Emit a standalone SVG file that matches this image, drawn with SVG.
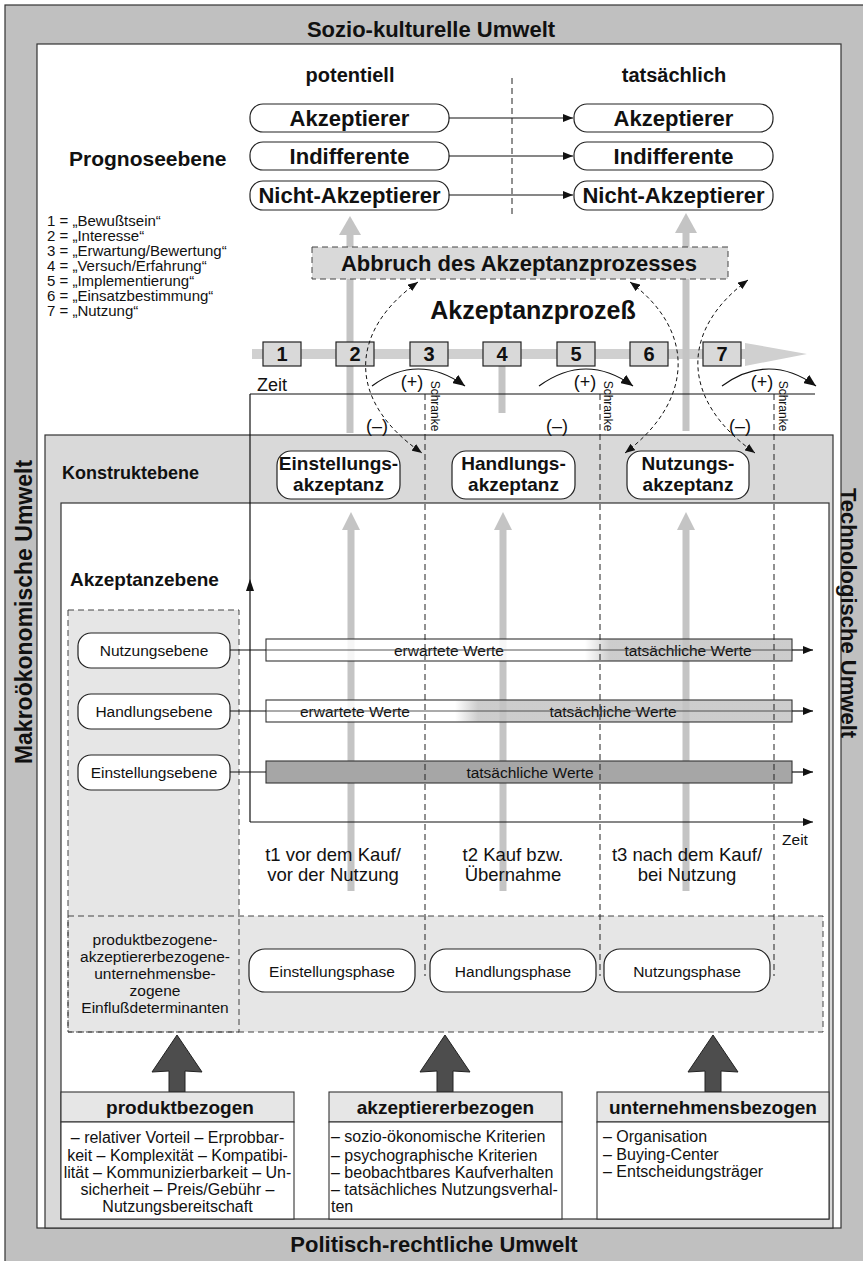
<svg xmlns="http://www.w3.org/2000/svg" width="863" height="1261" viewBox="0 0 863 1261">
<defs>
<style>
text{font-family:"Liberation Sans",Arial,Helvetica,sans-serif;fill:#111}
.b{font-weight:bold}
.c{text-anchor:middle}
.f25{font-size:25px}
.f23{font-size:23px}
.f22{font-size:22px}
.f21{font-size:21px}
.f20{font-size:20px}
.f19{font-size:19px}
.f18{font-size:18.5px}
.f16{font-size:16px}
.f15{font-size:15.5px}
.lg{font-size:15px}
.f12{font-size:12px}
.frame{stroke:#333;stroke-width:1.2}
.node{fill:#fff;stroke:#222;stroke-width:1.2}
.num{fill:#d9d9d9;stroke:#222;stroke-width:1.2}
.dashbox{fill:none;stroke:#444;stroke-width:1;stroke-dasharray:6 4}
.vdash{fill:none;stroke:#222;stroke-width:1;stroke-dasharray:6 4}
.arc{fill:none;stroke:#111;stroke-width:1;stroke-dasharray:4 3}
.ln{fill:none;stroke:#111;stroke-width:1.2}
.thru{fill:none;stroke:#444;stroke-width:0.9}
.lgray{fill:#c4c4c4}
.dark{fill:#4d4d4d;stroke:#222;stroke-width:1}
</style>
<marker id="ah" viewBox="0 0 10 8" refX="10" refY="4" markerWidth="10" markerHeight="8" markerUnits="userSpaceOnUse" orient="auto-start-reverse"><path d="M0,0L10,4L0,8z" fill="#111"/></marker>
<marker id="ahL" viewBox="0 0 12 10" refX="12" refY="5" markerWidth="12" markerHeight="10" markerUnits="userSpaceOnUse" orient="auto"><path d="M0,0L12,5L0,10z" fill="#111"/></marker>
<linearGradient id="gH" gradientUnits="userSpaceOnUse" x1="455" y1="0" x2="478" y2="0"><stop offset="0" stop-color="#fff"/><stop offset="1" stop-color="#c4c4c4"/></linearGradient>
<linearGradient id="gN" gradientUnits="userSpaceOnUse" x1="585" y1="0" x2="610" y2="0"><stop offset="0" stop-color="#fff"/><stop offset="1" stop-color="#c4c4c4"/></linearGradient>
</defs>

<rect width="863" height="1261" fill="#fff"/>

<!-- environment frame -->
<g id="umwelt">
<rect class="frame" x="5" y="5" width="870" height="1270" fill="#c0c0c0"/>
<rect class="frame" x="37" y="44" width="804" height="1184" fill="#fff"/>
<text class="b c f22" x="431" y="37">Sozio-kulturelle Umwelt</text>
<text class="b c f22" x="434" y="1252">Politisch-rechtliche Umwelt</text>
<text class="b c f23" transform="translate(32,612) rotate(-90)">Makroökonomische Umwelt</text>
<text class="b c f22" transform="translate(841,613) rotate(90)">Technologische Umwelt</text>
</g>

<!-- construct and acceptance levels -->
<g id="konstruktebene">
<rect class="frame" x="45" y="435" width="788" height="793" fill="#d9d9d9"/>
<text class="b" x="62" y="479" style="font-size:18px">Konstruktebene</text>
</g>
<g id="akzeptanzebene">
<rect class="frame" x="61" y="503" width="768" height="716" fill="#fff"/>
<text class="b f19" x="70" y="586">Akzeptanzebene</text>
</g>

<!-- dashed background areas -->
<g id="bereiche">
<rect x="68" y="610" width="171" height="422" fill="#e6e6e6"/>
<rect x="68" y="916" width="755" height="116" fill="#e6e6e6"/>
<rect class="dashbox" x="68" y="610" width="171" height="422"/>
<rect class="dashbox" x="68" y="916" width="755" height="116"/>
</g>

<!-- prognosis level -->
<g id="prognoseebene">
<text class="b f21" x="69" y="166">Prognoseebene</text>
<text class="b c f20" x="350" y="82">potentiell</text>
<text class="b c f20" x="674" y="82">tatsächlich</text>
<line class="vdash" x1="512" y1="78" x2="512" y2="217"/>
</g>
<g id="p-akzeptierer"><rect class="node" x="250" y="104" width="199" height="28" rx="13"/><text class="b c f22" x="349.5" y="126">Akzeptierer</text></g>
<g id="p-indifferente"><rect class="node" x="250" y="142" width="199" height="28" rx="13"/><text class="b c f22" x="349.5" y="164">Indifferente</text></g>
<g id="p-nicht"><rect class="node" x="250" y="181" width="199" height="29" rx="13"/><text class="b c f22" x="349.5" y="203">Nicht-Akzeptierer</text></g>
<g id="t-akzeptierer"><rect class="node" x="574" y="104" width="199" height="28" rx="13"/><text class="b c f22" x="673.5" y="126">Akzeptierer</text></g>
<g id="t-indifferente"><rect class="node" x="574" y="142" width="199" height="28" rx="13"/><text class="b c f22" x="673.5" y="164">Indifferente</text></g>
<g id="t-nicht"><rect class="node" x="574" y="181" width="199" height="29" rx="13"/><text class="b c f22" x="673.5" y="203">Nicht-Akzeptierer</text></g>

<!-- stage legend -->
<g id="legende">
<text class="lg" x="47" y="226">1 = „Bewußtsein“</text>
<text class="lg" x="47" y="241">2 = „Interesse“</text>
<text class="lg" x="47" y="256">3 = „Erwartung/Bewertung“</text>
<text class="lg" x="47" y="271">4 = „Versuch/Erfahrung“</text>
<text class="lg" x="47" y="286">5 = „Implementierung“</text>
<text class="lg" x="47" y="301">6 = „Einsatzbestimmung“</text>
<text class="lg" x="47" y="316">7 = „Nutzung“</text>
</g>

<!-- acceptance process band -->
<g id="prozess">
<rect x="252" y="349" width="494" height="10" fill="#d0d0d0"/>
<polygon points="745,343 807,354 745,366" fill="#d0d0d0"/>
<rect class="lgray" x="346.5" y="234" width="7" height="199"/>
<polygon class="lgray" points="339,235 350,216 361,235"/>
<rect class="lgray" x="682.5" y="232" width="7" height="199"/>
<polygon class="lgray" points="675,233 686,213 697,233"/>
<rect class="lgray" x="498.5" y="366" width="7" height="47"/>
<text class="b c f25" x="533" y="319">Akzeptanzprozeß</text>
</g>
<g id="abbruch">
<rect x="312" y="247" width="416" height="32" fill="#d9d9d9" stroke="#444" stroke-width="1" stroke-dasharray="6 4"/>
<text class="b c f22" x="519" y="271">Abbruch des Akzeptanzprozesses</text>
</g>
<g id="stufe1"><rect class="num" x="263" y="342" width="38" height="24"/><text class="b c f20" x="282" y="361">1</text></g>
<g id="stufe2"><rect class="num" x="336" y="342" width="38" height="24"/><text class="b c f20" x="355" y="361">2</text></g>
<g id="stufe3"><rect class="num" x="410" y="342" width="38" height="24"/><text class="b c f20" x="429" y="361">3</text></g>
<g id="stufe4"><rect class="num" x="483" y="342" width="38" height="24"/><text class="b c f20" x="502" y="361">4</text></g>
<g id="stufe5"><rect class="num" x="557" y="342" width="38" height="24"/><text class="b c f20" x="576" y="361">5</text></g>
<g id="stufe6"><rect class="num" x="630" y="342" width="38" height="24"/><text class="b c f20" x="649" y="361">6</text></g>
<g id="stufe7"><rect class="num" x="703" y="342" width="38" height="24"/><text class="b c f20" x="722" y="361">7</text></g>

<!-- thick gray arrows inside the acceptance level -->
<g id="zeitpfeile">
<rect class="lgray" x="347.5" y="529" width="7" height="362"/>
<polygon class="lgray" points="342,530 351,512 360,530"/>
<rect class="lgray" x="499.5" y="529" width="7" height="362"/>
<polygon class="lgray" points="494,530 503,512 512,530"/>
<rect class="lgray" x="682.5" y="529" width="7" height="362"/>
<polygon class="lgray" points="677,530 686,512 695,530"/>
</g>

<!-- value bars -->
<g id="werte">
<rect x="266" y="639" width="526" height="22" fill="url(#gN)" fill-opacity="0.85" stroke="#333" stroke-width="1.1"/>
<rect x="266" y="700" width="526" height="22" fill="url(#gH)" fill-opacity="0.85" stroke="#333" stroke-width="1.1"/>
<rect x="266" y="761" width="526" height="22" fill="#a6a6a6" stroke="#333" stroke-width="1.1"/>
<text class="c f15" x="449" y="656">erwartete Werte</text>
<text class="c f15" x="688" y="656">tatsächliche Werte</text>
<text class="c f15" x="355" y="717">erwartete Werte</text>
<text class="c f15" x="613" y="717">tatsächliche Werte</text>
<text class="c f15" x="530" y="778">tatsächliche Werte</text>
</g>

<!-- level boxes -->
<g id="nutzungsebene"><rect class="node" x="78" y="633" width="152" height="35" rx="13"/><text class="c f15" x="154" y="656">Nutzungsebene</text></g>
<g id="handlungsebene"><rect class="node" x="78" y="694" width="152" height="35" rx="13"/><text class="c f15" x="154" y="717">Handlungsebene</text></g>
<g id="einstellungsebene"><rect class="node" x="78" y="755" width="152" height="35" rx="13"/><text class="c f15" x="154" y="778">Einstellungsebene</text></g>

<!-- construct nodes -->
<g id="einstellungsakzeptanz"><rect class="node" x="277" y="451" width="123" height="48" rx="14"/><text class="b c f19" x="338.5" y="470">Einstellungs-</text><text class="b c f19" x="338.5" y="491">akzeptanz</text></g>
<g id="handlungsakzeptanz"><rect class="node" x="452" y="451" width="123" height="48" rx="14"/><text class="b c f19" x="513.5" y="470">Handlungs-</text><text class="b c f19" x="513.5" y="491">akzeptanz</text></g>
<g id="nutzungsakzeptanz"><rect class="node" x="627" y="451" width="122" height="48" rx="14"/><text class="b c f19" x="688" y="470">Nutzungs-</text><text class="b c f19" x="688" y="491">akzeptanz</text></g>

<!-- time points -->
<g id="zeitpunkte">
<text class="c f18" x="333" y="861">t1 vor dem Kauf/</text>
<text class="c f18" x="333" y="881">vor der Nutzung</text>
<text class="c f18" x="513" y="861">t2 Kauf bzw.</text>
<text class="c f18" x="513" y="881">Übernahme</text>
<text class="c f18" x="687" y="861">t3 nach dem Kauf/</text>
<text class="c f18" x="687" y="881">bei Nutzung</text>
</g>

<!-- phases -->
<g id="determinanten">
<text class="c f15" x="155" y="945">produktbezogene-</text>
<text class="c f15" x="155" y="962">akzeptiererbezogene-</text>
<text class="c f15" x="155" y="979">unternehmensbe-</text>
<text class="c f15" x="155" y="996">zogene</text>
<text class="c f15" x="155" y="1013">Einflußdeterminanten</text>
</g>
<g id="einstellungsphase"><rect class="node" x="249" y="949" width="166" height="43" rx="16"/><text class="c f15" x="332" y="977">Einstellungsphase</text></g>

<!-- connectors -->
<g id="verbindungen">
<line class="ln" x1="449" y1="118" x2="573" y2="118" marker-end="url(#ah)"/>
<line class="ln" x1="449" y1="156" x2="573" y2="156" marker-end="url(#ah)"/>
<line class="ln" x1="449" y1="195" x2="573" y2="195" marker-end="url(#ah)"/>
<path class="ln" d="M372,386 Q418,352 465,386" marker-end="url(#ahL)"/>
<path class="ln" d="M539,386 Q586,352 633,386" marker-end="url(#ahL)"/>
<path class="ln" d="M722,386 Q769,352 816,386" marker-end="url(#ahL)"/>
<path class="arc" d="M418,282 C350,330 345,400 422,453" marker-start="url(#ah)" marker-end="url(#ah)"/>
<path class="arc" d="M630,282 C695,330 695,400 625,453" marker-start="url(#ah)" marker-end="url(#ah)"/>
<path class="arc" d="M748,280 C680,330 680,400 755,453" marker-start="url(#ah)" marker-end="url(#ah)"/>
<line class="ln" x1="250" y1="394" x2="815" y2="394" stroke="#333"/>
<line class="ln" x1="250" y1="394" x2="250" y2="822"/>
<polygon points="246,591 250,579 254,591" fill="#111"/>
<line class="ln" x1="250" y1="822" x2="813" y2="822" marker-end="url(#ah)"/>
<line class="ln" x1="230" y1="650" x2="266" y2="650"/>
<line class="ln" x1="230" y1="711" x2="266" y2="711"/>
<line class="ln" x1="230" y1="772" x2="266" y2="772"/>
<line class="thru" x1="266" y1="650" x2="792" y2="650"/>
<line class="thru" x1="266" y1="711" x2="792" y2="711"/>
<line class="ln" x1="792" y1="650" x2="813" y2="650" marker-end="url(#ah)"/>
<line class="ln" x1="792" y1="711" x2="813" y2="711" marker-end="url(#ah)"/>
<line class="ln" x1="792" y1="772" x2="813" y2="772" marker-end="url(#ah)"/>
<line class="vdash" x1="425" y1="394" x2="425" y2="976"/>
<line class="vdash" x1="600" y1="394" x2="600" y2="976"/>
<line class="vdash" x1="774" y1="394" x2="774" y2="976"/>
<polygon class="dark" points="169,1092 169,1071 152,1072 177,1035 202,1072 185,1071 185,1092"/>
<polygon class="dark" points="437,1092 437,1071 420,1072 445,1035 470,1072 453,1071 453,1092"/>
<polygon class="dark" points="705,1092 705,1071 688,1072 713,1035 738,1072 721,1071 721,1092"/>
</g>

<g id="handlungsphase"><rect class="node" x="430" y="949" width="166" height="43" rx="16"/><text class="c f15" x="513" y="977">Handlungsphase</text></g>
<g id="nutzungsphase"><rect class="node" x="604" y="949" width="166" height="43" rx="16"/><text class="c f15" x="687" y="977">Nutzungsphase</text></g>

<!-- process annotations -->
<g id="schranken">
<text x="257" y="391" style="font-size:18px">Zeit</text>
<text class="c" x="795" y="845" style="font-size:15.5px">Zeit</text>
<text class="c" x="412" y="388" style="font-size:18px">(+)</text>
<text class="c" x="585" y="388" style="font-size:18px">(+)</text>
<text class="c" x="762" y="388" style="font-size:18px">(+)</text>
<text class="c" x="377" y="432" style="font-size:18px">(–)</text>
<text class="c" x="557" y="432" style="font-size:18px">(–)</text>
<text class="c" x="740" y="432" style="font-size:18px">(–)</text>
<text class="c f12" transform="translate(431,406) rotate(90)">Schranke</text>
<text class="c f12" transform="translate(604,406) rotate(90)">Schranke</text>
<text class="c f12" transform="translate(779,406) rotate(90)">Schranke</text>
</g>

<!-- determinant boxes -->
<g id="produktbezogen">
<rect x="61" y="1092" width="233" height="30" fill="#e6e6e6" stroke="#333" stroke-width="1.1"/>
<rect x="61" y="1122" width="233" height="97" fill="#fff" stroke="#333" stroke-width="1.1"/>
<text class="b c f19" x="180" y="1114">produktbezogen</text>
<text class="c f16" x="177.5" y="1143">– relativer Vorteil – Erprobbar-</text>
<text class="c f16" x="177.5" y="1161">keit – Komplexität – Kompatibi-</text>
<text class="c f16" x="177.5" y="1178">lität – Kommunizierbarkeit – Un-</text>
<text class="c f16" x="177.5" y="1195">sicherheit – Preis/Gebühr –</text>
<text class="c f16" x="177.5" y="1212">Nutzungsbereitschaft</text>
</g>
<g id="akzeptiererbezogen">
<rect x="329" y="1092" width="233" height="30" fill="#e6e6e6" stroke="#333" stroke-width="1.1"/>
<rect x="329" y="1122" width="233" height="97" fill="#fff" stroke="#333" stroke-width="1.1"/>
<text class="b c f19" x="445.5" y="1114">akzeptiererbezogen</text>
<text class="f16" x="331" y="1142">– sozio-ökonomische Kriterien</text>
<text class="f16" x="331" y="1161">– psychographische Kriterien</text>
<text class="f16" x="331" y="1178">– beobachtbares Kaufverhalten</text>
<text class="f16" x="331" y="1195">– tatsächliches Nutzungsverhal-</text>
<text class="f16" x="331" y="1212">ten</text>
</g>
<g id="unternehmensbezogen">
<rect x="597" y="1092" width="232" height="30" fill="#e6e6e6" stroke="#333" stroke-width="1.1"/>
<rect x="597" y="1122" width="232" height="97" fill="#fff" stroke="#333" stroke-width="1.1"/>
<text class="b c f19" x="713" y="1114">unternehmensbezogen</text>
<text class="f16" x="603" y="1142">– Organisation</text>
<text class="f16" x="603" y="1160">– Buying-Center</text>
<text class="f16" x="603" y="1177">– Entscheidungsträger</text>
</g>
</svg>
